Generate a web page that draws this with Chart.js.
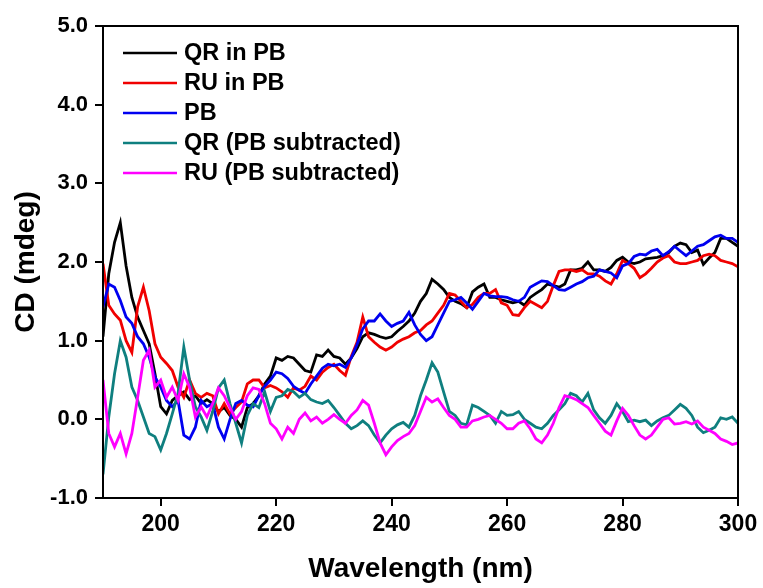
<!DOCTYPE html>
<html>
<head>
<meta charset="utf-8">
<script src="https://cdn.jsdelivr.net/npm/chart.js@4.4.1/dist/chart.umd.min.js"></script>
<style>
  html, body { margin: 0; padding: 0; background: #fff; }
  #wrap { width: 763px; height: 588px; }
</style>
</head>
<body>
<div id="wrap"><canvas id="cdChart" width="763" height="588"></canvas></div>
<script>
// wavelength grid (nm)
const wavelengths = [
  190, 191, 192, 193, 194, 195, 196, 197, 198, 199, 200, 201, 202, 203, 204, 205, 206, 207, 208, 209,
  210, 211, 212, 213, 214, 215, 216, 217, 218, 219, 220, 221, 222, 223, 224, 225, 226, 227, 228, 229,
  230, 231, 232, 233, 234, 235, 236, 237, 238, 239, 240, 241, 242, 243, 244, 245, 246, 247, 248, 249,
  250, 251, 252, 253, 254, 255, 256, 257, 258, 259, 260, 261, 262, 263, 264, 265, 266, 267, 268, 269,
  270, 271, 272, 273, 274, 275, 276, 277, 278, 279, 280, 281, 282, 283, 284, 285, 286, 287, 288, 289,
  290, 291, 292, 293, 294, 295, 296, 297, 298, 299, 300
];

// CD values (mdeg)
const qrInPb = [
  1.05, 1.85, 2.25, 2.5, 1.95, 1.55, 1.3, 1.13, 0.96, 0.58, 0.16, 0.07, 0.24, 0.3, 0.35, 0.25, 0.3, 0.2, 0.25, 0.2,
  0.1, 0.15, 0.05, 0.0, -0.1, 0.15, 0.2, 0.3, 0.45, 0.55, 0.78, 0.75, 0.8, 0.78, 0.7, 0.62, 0.6, 0.82, 0.8, 0.88,
  0.8, 0.78, 0.7, 0.78, 0.9, 1.05, 1.1, 1.08, 1.05, 1.03, 1.05, 1.12, 1.18, 1.25, 1.35, 1.5, 1.6, 1.78, 1.72, 1.65,
  1.55, 1.5, 1.47, 1.42, 1.62, 1.68, 1.72, 1.55, 1.55, 1.52, 1.5, 1.48, 1.5, 1.45, 1.55, 1.6, 1.65, 1.72, 1.7, 1.68,
  1.72, 1.9, 1.9, 1.92, 2.0, 1.9, 1.9, 1.88, 1.93, 2.02, 2.06, 2.0, 1.98, 2.0, 2.04, 2.05, 2.06, 2.08, 2.12, 2.2,
  2.24, 2.22, 2.12, 2.15, 1.97, 2.05, 2.12, 2.3, 2.3, 2.25, 2.2
];
const ruInPb = [
  1.98, 1.45, 1.34, 1.26, 1.0, 0.85, 1.43, 1.68, 1.38, 0.96, 0.79, 0.71, 0.62, 0.41, 0.28, 0.5, 0.33, 0.28, 0.33, 0.3,
  0.07, 0.2, 0.07, 0.15, 0.22, 0.45, 0.5, 0.5, 0.4, 0.43, 0.4, 0.35, 0.28, 0.4, 0.37, 0.42, 0.55, 0.5, 0.6, 0.66,
  0.7, 0.62, 0.56, 0.8, 0.98, 1.3, 1.05, 0.98, 0.92, 0.88, 0.92, 0.98, 1.02, 1.05, 1.1, 1.13, 1.2, 1.25, 1.35, 1.45,
  1.6, 1.58, 1.5, 1.42, 1.46, 1.55, 1.6, 1.6, 1.65, 1.48, 1.45, 1.33, 1.32, 1.42, 1.5, 1.46, 1.42, 1.5, 1.7, 1.88,
  1.9, 1.9, 1.88, 1.9, 1.85, 1.85, 1.82, 1.76, 1.72, 1.85, 2.02, 1.98, 1.92, 1.8, 1.85, 1.92, 2.0, 2.05, 2.08, 2.0,
  1.98, 1.98, 2.0, 2.02, 2.08, 2.1, 2.08, 2.02, 2.0, 1.98, 1.94
];
const pbOnly = [
  1.43, 1.72, 1.68, 1.51, 1.3, 1.22, 1.05, 0.96, 0.79, 0.54, 0.41, 0.24, 0.16, 0.24, -0.2, -0.25, -0.1, 0.24, 0.16, 0.2,
  -0.1, -0.25, 0.0, 0.2, 0.24, 0.18, 0.16, 0.3, 0.42, 0.5, 0.6, 0.58, 0.52, 0.42, 0.37, 0.33, 0.45, 0.55, 0.65, 0.7,
  0.68, 0.7, 0.66, 0.78, 0.95, 1.15, 1.25, 1.25, 1.34, 1.25, 1.18, 1.22, 1.25, 1.36, 1.2, 1.08, 1.0, 1.05, 1.2, 1.35,
  1.5, 1.52, 1.55, 1.48, 1.4, 1.5, 1.6, 1.57, 1.56, 1.56, 1.55, 1.52, 1.5, 1.55, 1.68, 1.72, 1.76, 1.75, 1.7, 1.65,
  1.64, 1.68, 1.72, 1.75, 1.8, 1.82, 1.9, 1.88, 1.86, 1.8, 1.95, 1.98, 2.07, 2.1, 2.09, 2.14, 2.16, 2.08, 2.13, 2.2,
  2.14, 2.08, 2.14, 2.2, 2.22, 2.27, 2.32, 2.34, 2.3, 2.3, 2.25
];
const qrSubtracted = [
  -0.7, 0.03, 0.58, 1.0, 0.79, 0.41, 0.24, 0.03, -0.18, -0.22, -0.39, -0.18, 0.07, 0.33, 0.92, 0.5, 0.16, 0.03, -0.14, 0.1,
  0.4, 0.5, 0.2, -0.05, -0.3, 0.05, 0.2, 0.15, 0.35, 0.1, 0.28, 0.3, 0.38, 0.35, 0.28, 0.33, 0.25, 0.22, 0.2, 0.24,
  0.15, 0.05, -0.05, -0.12, -0.08, -0.02, -0.08, -0.2, -0.3, -0.2, -0.12, -0.07, -0.04, -0.1, 0.05, 0.3, 0.5, 0.72, 0.6, 0.35,
  0.1, 0.05, -0.05, -0.07, 0.18, 0.15, 0.1, 0.05, -0.05, 0.1, 0.05, 0.06, 0.1, 0.0, -0.05, -0.1, -0.12, -0.05, 0.05, 0.12,
  0.2, 0.33, 0.3, 0.22, 0.33, 0.12, 0.02, -0.05, 0.05, 0.2, 0.1, -0.03, -0.01, -0.03, -0.01, -0.08, -0.02, 0.02, 0.05, 0.12,
  0.19, 0.14, 0.05, -0.1, -0.17, -0.14, -0.1, 0.02, 0.0, 0.03, -0.05
];
const ruSubtracted = [
  0.5, -0.18, -0.35, -0.18, -0.44, -0.18, 0.28, 0.75, 0.88, 0.41, 0.5, 0.28, 0.41, 0.24, 0.58, 0.41, 0.03, 0.16, 0.03, 0.2,
  0.4, 0.3, 0.15, 0.0, 0.1, 0.3, 0.4, 0.38, 0.2, -0.05, -0.12, -0.25, -0.1, -0.18, 0.0, 0.08, -0.02, 0.03, -0.05, 0.0,
  0.06, 0.0, -0.05, 0.05, 0.12, 0.24, 0.18, -0.05, -0.3, -0.45, -0.35, -0.27, -0.22, -0.18, -0.08, 0.1, 0.28, 0.22, 0.26, 0.15,
  0.05, 0.0, -0.1, -0.1, -0.02, 0.0, 0.03, 0.05, 0.0, -0.05, -0.12, -0.12, -0.05, -0.02, -0.12, -0.25, -0.3, -0.2, -0.05, 0.15,
  0.3, 0.28, 0.25, 0.2, 0.15, 0.05, -0.05, -0.15, -0.2, -0.02, 0.14, 0.05, -0.08, -0.2, -0.25, -0.2, -0.1, 0.0, 0.02, -0.06,
  -0.05, -0.03, -0.06, -0.02, -0.1, -0.14, -0.18, -0.25, -0.28, -0.32, -0.3
];

const seriesNames = ["QR in PB", "RU in PB", "PB", "QR (PB subtracted)", "RU (PB subtracted)"];
const seriesColors = ["#000000", "#f00000", "#0000f0", "#0f7f7f", "#ff00ff"];
const xTicks = [200, 220, 240, 260, 280, 300];
const yTicks = [-1, 0, 1, 2, 3, 4, 5];

const FONT = "'Liberation Sans', Arial, Helvetica, sans-serif";

function toPoints(values) {
  return values.map((v, i) => ({ x: wavelengths[i], y: v }));
}

// box around the plot + legend inside it
const framePlugin = {
  id: "frame",
  afterDatasetsDraw(chart) {
    const { ctx, chartArea } = chart;
    ctx.save();
    ctx.strokeStyle = "#000";
    ctx.lineWidth = 2;
    ctx.strokeRect(chartArea.left, chartArea.top, chartArea.right - chartArea.left, chartArea.bottom - chartArea.top);

    ctx.font = "bold 23.5px " + FONT;
    ctx.textBaseline = "middle";
    chart.data.datasets.forEach((ds, i) => {
      const y = chartArea.top + 27 + i * 30;
      const x0 = chartArea.left + 20;
      ctx.strokeStyle = ds.borderColor;
      ctx.lineWidth = 2.5;
      ctx.beginPath();
      ctx.moveTo(x0, y);
      ctx.lineTo(x0 + 54, y);
      ctx.stroke();
      ctx.fillStyle = "#000";
      ctx.fillText(ds.label, x0 + 61, y + 1);
    });
    ctx.restore();
  }
};

const allSeries = [qrInPb, ruInPb, pbOnly, qrSubtracted, ruSubtracted];

new Chart(document.getElementById("cdChart"), {
  type: "line",
  data: {
    datasets: allSeries.map((vals, i) => ({
      label: seriesNames[i],
      data: toPoints(vals),
      borderColor: seriesColors[i],
      borderWidth: 2.8,
      pointRadius: 0,
      tension: 0,
      order: allSeries.length - i,
    })),
  },
  options: {
    responsive: false,
    animation: false,
    layout: { padding: { top: 26, right: 25, left: 0, bottom: 0 } },
    plugins: {
      legend: { display: false },
      tooltip: { enabled: false },
    },
    scales: {
      x: {
        type: "linear",
        min: 190,
        max: 300,
        afterBuildTicks: (scale) => { scale.ticks = xTicks.map((v) => ({ value: v })); },
        afterFit: (scale) => { scale.height = 90; },
        ticks: {
          color: "#000",
          font: { family: FONT, size: 23, weight: "bold" },
          padding: 5,
          maxRotation: 0,
          callback: (v) => String(v),
        },
        grid: { drawOnChartArea: false, drawTicks: true, tickLength: 8, color: "#000", lineWidth: 2 },
        border: { display: true, color: "#000", width: 2 },
        title: {
          display: true,
          text: "Wavelength (nm)",
          color: "#000",
          font: { family: FONT, size: 28, weight: "bold", lineHeight: 1.2 },
          padding: { top: 0, bottom: 2 },
        },
      },
      y: {
        min: -1,
        max: 5,
        afterBuildTicks: (scale) => { scale.ticks = yTicks.map((v) => ({ value: v })); },
        afterFit: (scale) => { scale.width = 103; },
        ticks: {
          color: "#000",
          font: { family: FONT, size: 22, weight: "bold" },
          padding: 7,
          callback: (v) => Number(v).toFixed(1),
        },
        grid: { drawOnChartArea: false, drawTicks: true, tickLength: 8, color: "#000", lineWidth: 2 },
        border: { display: true, color: "#000", width: 2 },
        title: {
          display: true,
          text: "CD (mdeg)",
          color: "#000",
          font: { family: FONT, size: 28, weight: "bold", lineHeight: 1.2 },
          padding: { top: 9, bottom: 0 },
        },
      },
    },
  },
  plugins: [framePlugin],
});
</script>
</body>
</html>
